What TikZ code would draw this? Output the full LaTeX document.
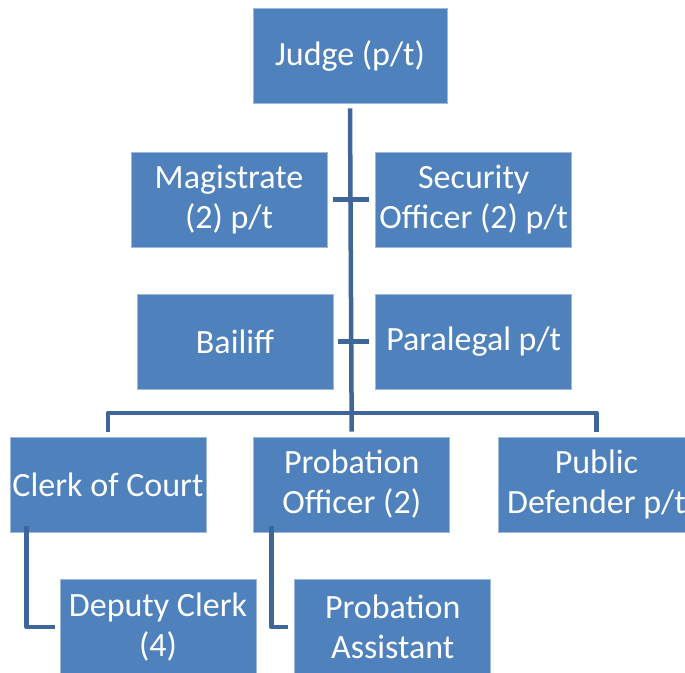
\documentclass[tikz,border=0pt]{standalone}
\usepackage{fontspec}
\setmainfont{Carlito}
\usepackage{tikz}
\usetikzlibrary{positioning, arrows, arrows.meta}

\definecolor{boxblue}{RGB}{79,129,189}
\definecolor{linkblue}{RGB}{62,102,152}

\begin{document}
\begin{tikzpicture}[x=1pt, y=-1pt, thick,
    role/.style={fill=boxblue, draw=boxblue!55!white, line width=0.7pt,
        minimum width=196pt, minimum height=95pt, inner sep=0pt,
        align=center, text=white, font=\fontsize{34}{40}\selectfont},
    link/.style={draw=linkblue, line width=4.5pt, line join=round}]
    \useasboundingbox (0,0) rectangle (685,672);

    \node [role, minimum width=194pt] (judge) at (350,55.5) {Judge (p/t)};

    \node [role] (magis) at (229,199.5) {Magistrate\\(2) p/t};
    \node [role, right=48pt of magis] (secur) {Security\\Officer (2) p/t};

    \node [role] (bailiff) at (235,341.5) {Bailiff};
    \node [role, right=42pt of bailiff] (paraleg) {Paralegal p/t};

    \node [role] (clerk) at (108,484.5) {Clerk of Court};
    \node [role, right=47pt of clerk] (probof) {Probation\\Officer (2)};
    \node [role, right=48pt of probof] (pubdef) {Public\\Defender p/t};

    \node [role] (deputy) at (158,627) {Deputy Clerk\\(4)};
    \node [role, right=38pt of deputy] (probasst) {Probation\\Assistant};

    % links
    \coordinate (bar) at (351,413);
    \draw[link] ([yshift=-5pt]judge.south) -- ([yshift=5pt]probof.north);
    \draw[link, shorten <=6pt, shorten >=6pt] (magis.east) -- (secur.west);
    \draw[link, shorten <=5pt, shorten >=6pt] (bailiff.east) -- (paraleg.west);
    \draw[link] ([yshift=5pt]clerk.north) |- (bar) -| ([yshift=5pt]pubdef.north);
    \draw[link] ([xshift=17pt,yshift=6pt]clerk.south west) |- ([xshift=-5pt]deputy.west);
    \draw[link] ([xshift=18pt,yshift=6pt]probof.south west) |- ([xshift=-6pt]probasst.west);
\end{tikzpicture}
\end{document}
